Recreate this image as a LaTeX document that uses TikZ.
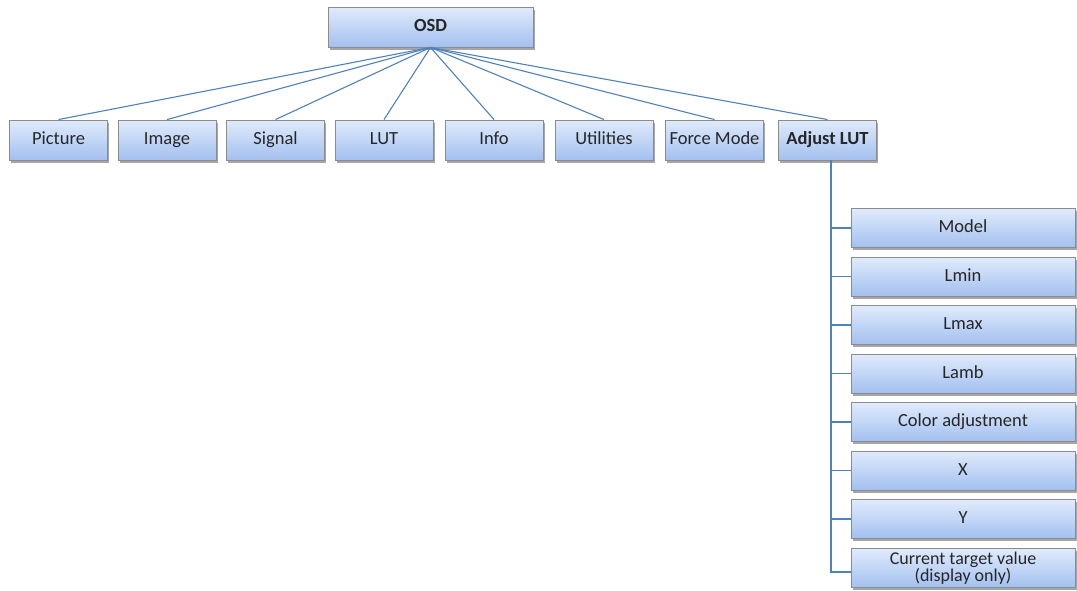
\documentclass[tikz,border=0pt]{standalone}
\usepackage{fontspec}
\setmainfont{Carlito}
\usetikzlibrary{shadows}
\definecolor{linkblue}{HTML}{4F81BD}
\definecolor{boxtop}{HTML}{E0EBFC}
\definecolor{boxbot}{HTML}{A3C0EF}
\definecolor{boxedge}{HTML}{8C8C8C}
\definecolor{txt}{HTML}{262626}
\tikzset{
  menubox/.style={draw=boxedge, line width=0.9pt, top color=boxtop, bottom color=boxbot,
    inner sep=0pt, text=txt, font=\fontsize{18.5}{19}\selectfont, align=center,
    drop shadow={shadow xshift=1.5pt, shadow yshift=-2.5pt, opacity=0.35, fill=black}},
  oneline/.style={text height=12.5pt, text depth=3.5pt},
  topbox/.style={menubox, oneline, minimum width=98pt, minimum height=40pt},
  rootbox/.style={menubox, oneline, minimum width=205pt, minimum height=40pt, font=\bfseries\fontsize{18.5}{19}\selectfont},
  childbox/.style={menubox, minimum width=224pt, minimum height=39pt},
  link/.style={draw=linkblue, line width=1.1pt}
}
\begin{document}
\begin{tikzpicture}[x=1pt,y=-1pt]
\useasboundingbox (0,0) rectangle (1077,590);
\node[rootbox] (osd) at (430.5,27) {OSD};
\node[topbox] (picture) at (58.5,140) {Picture};
\node[topbox] (image) at (167,140) {Image};
\node[topbox] (signal) at (275.5,140) {Signal};
\node[topbox] (lut) at (384,140) {LUT};
\node[topbox] (info) at (494,140) {Info};
\node[topbox] (util) at (604,140) {Utilities};
\node[topbox] (force) at (714.5,140) {Force Mode};
\node[topbox, font=\bfseries\fontsize{18.5}{19}\selectfont] (adj) at (827.5,140) {Adjust LUT};
\foreach \n in {picture,image,signal,lut,info,util,force,adj}
  \draw[link] (osd.south) -- (\n.north);
\node[childbox, oneline] (model) at (963,228) {Model};
\node[childbox, oneline] (lmin) at (963,276.5) {Lmin};
\node[childbox, oneline] (lmax) at (963,325) {Lmax};
\node[childbox, oneline] (lamb) at (963,373.5) {Lamb};
\node[childbox, oneline] (color) at (963,422) {Color adjustment};
\node[childbox, oneline] (x) at (963,470.5) {X};
\node[childbox, oneline] (y) at (963,519) {Y};
\node[childbox, font=\fontsize{18}{17}\selectfont] (cur) at (963,568) {Current target value\\(display only)};
\coordinate (vx) at (831,160);
\draw[link] (vx) |- ([yshift=-4pt]cur.west);
\foreach \n in {model,lmin,lmax,lamb,color,x,y}
  \draw[link] (vx) |- (\n.west);
\end{tikzpicture}
\end{document}
